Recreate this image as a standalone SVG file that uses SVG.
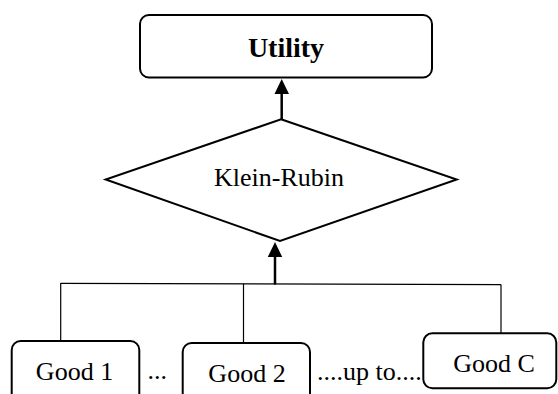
<svg xmlns="http://www.w3.org/2000/svg" width="558" height="394" viewBox="0 0 558 394">
  <style>
    .box { fill: #fff; stroke: #000; stroke-width: 2; }
    .lbl { font-family: "Liberation Serif", "Times New Roman", serif; font-size: 26px; fill: #000; text-anchor: middle; }
    .bold { font-weight: bold; font-size: 28px; }
    .free { text-anchor: start; }
    .thin { stroke: #000; stroke-width: 1.2; fill: none; }
    .shaft { stroke: #000; stroke-width: 2.5; fill: none; }
    .head { fill: #000; }
  </style>
  <rect width="558" height="394" fill="#fff"/>

  <g id="connectors">
    <!-- bus joining the goods -->
    <line class="thin" x1="60.7" y1="283.3" x2="501" y2="284.7"/>
    <line class="thin" x1="60.7" y1="283" x2="60.7" y2="341"/>
    <line class="thin" x1="243.5" y1="283.8" x2="243.5" y2="343"/>
    <line class="thin" x1="501" y1="284.5" x2="501" y2="333.3"/>
    <!-- bus to aggregator -->
    <line class="shaft" x1="275" y1="284.5" x2="275" y2="256"/>
    <polygon class="head" points="267.8,257 282.2,257 275,242"/>
    <!-- aggregator to utility -->
    <line class="shaft" x1="281.7" y1="119" x2="281.7" y2="93"/>
    <polygon class="head" points="274.5,94 289,94 281.7,79"/>
  </g>

  <g id="utility">
    <rect class="box" x="140" y="15" width="292" height="62.5" rx="9"/>
    <text class="lbl bold" x="286" y="57">Utility</text>
  </g>

  <g id="klein-rubin">
    <polygon class="box" points="281,119.3 456.7,179.5 280,241 105.7,179.5"/>
    <text class="lbl" x="279" y="186">Klein-Rubin</text>
  </g>

  <g id="good-1">
    <rect class="box" x="11.7" y="341" width="127.6" height="70" rx="9"/>
    <text class="lbl" x="74.5" y="379.5">Good 1</text>
  </g>

  <text class="lbl free" x="147.5" y="379">...</text>

  <g id="good-2">
    <rect class="box" x="182.7" y="343" width="127.3" height="70" rx="9"/>
    <text class="lbl" x="247" y="381.7">Good 2</text>
  </g>

  <text class="lbl free" x="317" y="380">....up to....</text>

  <g id="good-c">
    <rect class="box" x="423.3" y="333.3" width="133" height="55" rx="9"/>
    <text class="lbl" x="494" y="371.7">Good C</text>
  </g>
</svg>
